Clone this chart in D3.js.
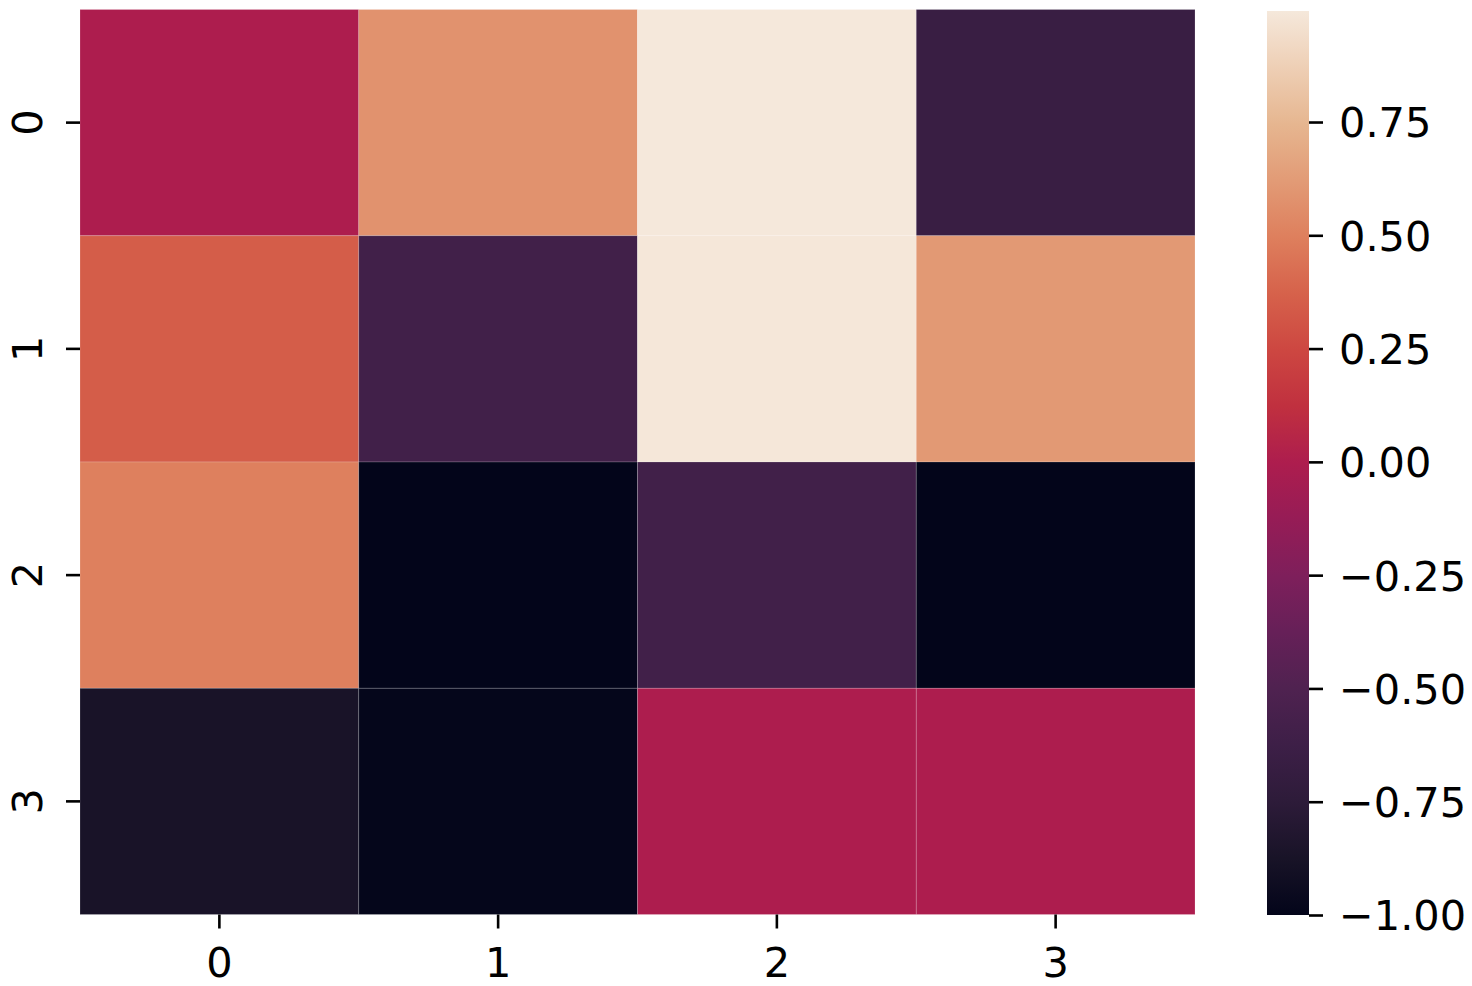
<!DOCTYPE html>
<html>
<head>
<meta charset="utf-8">
<script src="https://cdn.jsdelivr.net/npm/d3@7"></script>
<style>
  body { margin: 0; background: #fff; }
  text { font-family: "DejaVu Sans", sans-serif; fill: #000; }
</style>
</head>
<body>
<div class="canvas"></div>
<script>
// heatmap data (rows x cols)
const rowLabels = ['0', '1', '2', '3'];
const colLabels = ['0', '1', '2', '3'];
const row0 = [0.0, 0.58, 0.995, -0.66];
const row1 = [0.35, -0.6, 0.99, 0.61];
const row2 = [0.5, -1.0, -0.6, -1.0];
const row3 = [-0.87, -0.99, 0.0, 0.0];
const values = [row0, row1, row2, row3];

// colorbar
const vMin = -1.0;
const vMax = 0.995;
const cbarTicks = [-1.0, -0.75, -0.5, -0.25, 0.0, 0.25, 0.5, 0.75];

// rocket-like colormap, sampled from the reference colorbar
const cmapStops = [0, 0.0625, 0.125, 0.1875, 0.25, 0.3125, 0.375, 0.4375, 0.5,
                   0.5625, 0.625, 0.6875, 0.75, 0.8125, 0.875, 0.9375, 1];
const cmapColors = ['#03051a', '#181327', '#2d1b39', '#3d1f47', '#4f2250', '#662058',
                    '#7e1f5b', '#961c56', '#ad1d4e', '#c0303f', '#cd4741', '#d6624b',
                    '#de7f5d', '#e29b76', '#e6b690', '#eecfb5', '#f5e8db'];

const width = 1472, height = 986;
const svg = d3.select('.canvas')
    .append('svg')
    .attr('width', width)
    .attr('height', height);

// heatmap area
const hm = {left: 80, right: 1195, top: 9.5, bottom: 914.5};

const x = d3.scaleBand()
    .domain(colLabels)
    .range([hm.left, hm.right]);
const y = d3.scaleBand()
    .domain(rowLabels)
    .range([hm.top, hm.bottom]);

const cmap = d3.scaleLinear()
    .domain(cmapStops)
    .range(cmapColors)
    .interpolate(d3.interpolateRgb)
    .clamp(true);
const color = v => cmap((v - vMin) / (vMax - vMin));

// flatten cells
const cells = [];
values.forEach((row, i) => row.forEach((v, j) => cells.push({r: rowLabels[i], c: colLabels[j], v})));

svg.append('g')
  .selectAll('rect')
  .data(cells)
  .enter()
  .append('rect')
    .attr('x', d => x(d.c))
    .attr('y', d => y(d.r))
    .attr('width', x.bandwidth())
    .attr('height', y.bandwidth())
    .attr('fill', d => color(d.v))
    .attr('stroke', 'rgba(255,255,255,0.22)')
    .attr('stroke-width', 0.8);

// axes
const fontSize = 41.5;
const xAxis = d3.axisBottom(x).tickSize(14).tickPadding(0);
const xAxisGroup = svg.append('g')
    .attr('transform', `translate(0, ${hm.bottom})`)
    .call(xAxis);
xAxisGroup.select('.domain').remove();
xAxisGroup.selectAll('.tick line').attr('stroke', '#000').attr('stroke-width', 2.6);
xAxisGroup.selectAll('.tick text')
    .attr('y', 62)
    .attr('dy', null)
    .style('font-size', fontSize + 'px')
    .style('font-family', '"DejaVu Sans", sans-serif');

const yAxis = d3.axisLeft(y).tickSize(14).tickPadding(0);
const yAxisGroup = svg.append('g')
    .attr('transform', `translate(${hm.left}, 0)`)
    .call(yAxis);
yAxisGroup.select('.domain').remove();
yAxisGroup.selectAll('.tick line').attr('stroke', '#000').attr('stroke-width', 2.6);
yAxisGroup.selectAll('.tick text')
    .attr('x', null)
    .attr('dy', null)
    .attr('text-anchor', 'middle')
    .attr('transform', 'translate(-38.5, 0) rotate(-90)')
    .style('font-size', fontSize + 'px')
    .style('font-family', '"DejaVu Sans", sans-serif');

// colorbar
const cb = {left: 1267, right: 1309, top: 11, bottom: 915};
const cy = d3.scaleLinear()
    .domain([vMin, vMax])
    .range([cb.bottom, cb.top]);

const defs = svg.append('defs');
const grad = defs.append('linearGradient')
    .attr('id', 'cbar')
    .attr('x1', 0).attr('y1', 1)
    .attr('x2', 0).attr('y2', 0);
grad.selectAll('stop')
    .data(cmapStops)
    .enter()
    .append('stop')
    .attr('offset', d => d)
    .attr('stop-color', (d, i) => cmapColors[i]);

svg.append('rect')
    .attr('x', cb.left)
    .attr('y', cb.top)
    .attr('width', cb.right - cb.left)
    .attr('height', cb.bottom - cb.top)
    .attr('fill', 'url(#cbar)');

const cAxis = d3.axisRight(cy)
    .tickValues(cbarTicks)
    .tickSize(14)
    .tickPadding(16)
    .tickFormat(d => d3.format('.2f')(d).replace('-', '\u2212'));
const cAxisGroup = svg.append('g')
    .attr('transform', `translate(${cb.right}, 0)`)
    .call(cAxis);
cAxisGroup.select('.domain').remove();
cAxisGroup.selectAll('.tick line').attr('stroke', '#000').attr('stroke-width', 2.6);
cAxisGroup.selectAll('.tick text')
    .attr('dy', '0.36em')
    .style('font-size', fontSize + 'px')
    .style('font-family', '"DejaVu Sans", sans-serif');
</script>
</body>
</html>
